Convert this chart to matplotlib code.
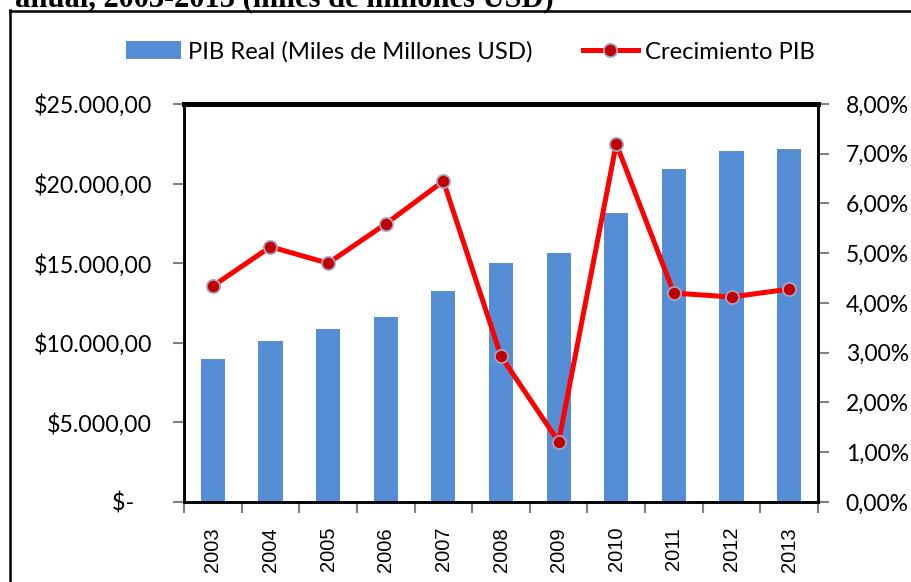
import matplotlib.pyplot as plt
from matplotlib.lines import Line2D
import numpy as np

# datos
anios = ["2003", "2004", "2005", "2006", "2007", "2008", "2009", "2010", "2011", "2012", "2013"]
pib_real = [9000, 10100, 10870, 11620, 13250, 15010, 15640, 18150, 20920, 22050, 22170]
crecimiento = [4.34, 5.13, 4.80, 5.59, 6.45, 2.93, 1.21, 7.20, 4.20, 4.12, 4.28]

plt.rcParams['font.family'] = ['Lato', 'DejaVu Sans']

fig = plt.figure(figsize=(9.12, 5.82), dpi=100)
ax = fig.add_axes([0.2018, 0.1375, 0.6951, 0.6838])
ax2 = ax.twinx()

x = np.arange(len(anios))
barras = ax.bar(x, pib_real, width=0.42, color="#558ED5", zorder=2,
                label="PIB Real (Miles de Millones USD)")
linea, = ax2.plot(x, crecimiento, color="#FF0000", lw=3.6, marker="o", ms=9.5,
                  mfc="#C00000", mec="#A9A3C6", mew=1.3, zorder=3,
                  label="Crecimiento PIB")

ax.set_xlim(-0.5, len(anios) - 0.5)
ax.set_ylim(0, 25000)
ax2.set_ylim(0, 8)

# ejes
ax.set_yticks(np.arange(0, 25001, 5000))
def fmt_dolar(v):
    if v == 0:
        return "$-   "
    return "$" + f"{v:,.2f}".replace(",", "X").replace(".", ",").replace("X", ".")
ax.set_yticklabels([fmt_dolar(v) for v in np.arange(0, 25001, 5000)])
ax2.set_yticks(np.arange(0, 9, 1))
ax2.set_yticklabels([f"{v:.2f}".replace(".", ",") + "%" for v in range(9)])

ax.set_xticks(x)
ax.set_xticklabels(anios, rotation=90, family=['Liberation Sans'], fontsize=14.5)
ax.set_xticks(np.arange(-0.5, len(anios), 1), minor=True)
ax.tick_params(axis="x", which="major", length=0, pad=18)
ax.tick_params(axis="x", which="minor", length=8, width=1.5, color="#808080")
ax.tick_params(axis="y", length=8, width=1.5, color="#808080", labelsize=16.7, pad=15)
ax2.tick_params(axis="y", length=8, width=1.5, color="#808080", labelsize=16.5, pad=12)

for a in (ax, ax2):
    for s in a.spines.values():
        s.set_color("black")
        s.set_linewidth(1.8)
    a.spines["top"].set_linewidth(3.5)

# leyenda
fig.legend(handles=[barras, linea], loc="center", bbox_to_anchor=(0.516, 0.911), ncol=2,
           frameon=False, fontsize=17.2, handlelength=2.3, handleheight=0.8,
           columnspacing=2.1, handletextpad=0.3)

# marco exterior y titulo cortado
fig.add_artist(Line2D([0.0105, 0.0105], [0, 0.982], color="black", lw=1.8))
fig.add_artist(Line2D([0.0105, 1.0], [0.981, 0.981], color="black", lw=1.8))
fig.text(0.016, 0.9888, "anual, 2003-2013 (miles de millones USD)", family="Liberation Serif",
         fontweight="bold", fontsize=22, ha="left", va="baseline")

fig.savefig("out.png", dpi=100)
